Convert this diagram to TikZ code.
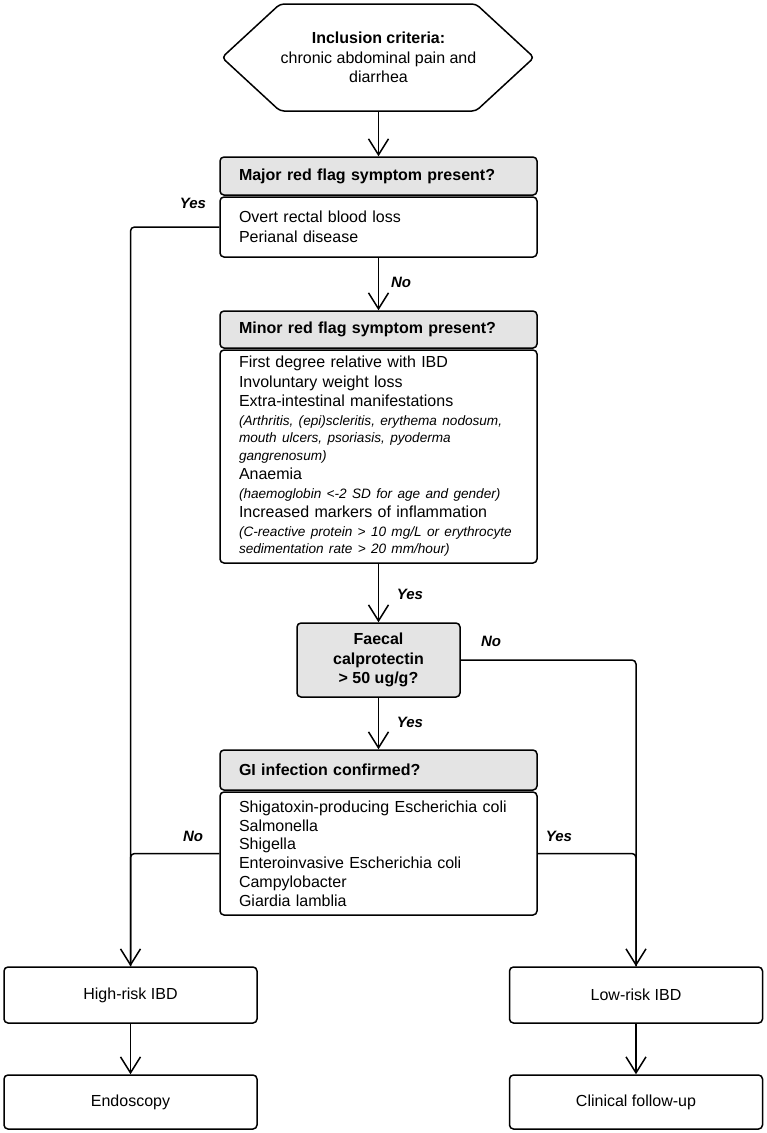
\documentclass[tikz,border=0pt]{standalone}
\usepackage{fontspec}
\setmainfont{Liberation Sans}
\usetikzlibrary{arrows.meta}
\definecolor{headgray}{RGB}{228,228,228}
\tikzset{
  base/.style={line width=1.5pt, draw=black},
  headbox/.style={base, fill=headgray, rounded corners=4pt, minimum width=317pt, text width=279pt, align=left, inner xsep=19pt, font=\fontsize{16}{19.5}\selectfont\bfseries},
  bodybox/.style={base, fill=white, rounded corners=4pt, minimum width=317pt, text width=279pt, align=left, inner xsep=19pt, inner ysep=0pt, font=\fontsize{16}{19.5}\selectfont},
  outbox/.style={base, fill=white, rounded corners=4pt, minimum width=253pt, align=center, font=\fontsize{16}{19.5}\selectfont},
  lbl/.style={font=\fontsize{15}{18}\selectfont\bfseries\itshape, inner sep=0pt},
  conn/.style={line width=1.5pt},
  arr/.style={conn, -{Straight Barb[length=16pt,width=20pt,line width=1.5pt]}},
}
\newcommand{\smallit}[1]{\mbox{\fontsize{13.6}{18}\selectfont\itshape #1}}
\begin{document}
\begin{tikzpicture}[x=1pt,y=-1pt]
\useasboundingbox (0,0) rectangle (767,1133);
% hexagon
\draw[base, rounded corners=4pt] (280,4) -- (476,4) -- (534,57.5) -- (476,111) -- (280,111) -- (222,57.5) -- cycle;
\node[minimum width=254pt, minimum height=107pt, align=center, inner sep=0pt, font=\fontsize{16}{19.5}\selectfont] (hex) at (378.5,57.5) {\textbf{Inclusion criteria:}\\chronic abdominal pain and\\diarrhea};
% major
\node[headbox, minimum height=38pt] (majhead) at (378.5,176) {Major red flag symptom present?};
\node[bodybox, minimum height=60pt] (majbody) at (378.5,227) {Overt rectal blood loss\\Perianal disease};
% minor
\node[headbox, minimum height=37pt] (minhead) at (378.5,329.5) {Minor red flag symptom present?};
\node[bodybox, minimum height=213pt] (minbody) at (378.5,456.5) {%
First degree relative with IBD\\
Involuntary weight loss\\
Extra-intestinal manifestations\\[-1pt]
\smallit{(Arthritis, (epi)scleritis, erythema nodosum,}\\[-2pt]
\smallit{mouth ulcers, psoriasis, pyoderma}\\[-2pt]
\smallit{gangrenosum)}\\
Anaemia\\[-1pt]
\smallit{(haemoglobin <-2 SD for age and gender)}\\
Increased markers of inflammation\\[-1pt]
\smallit{(C-reactive protein > 10 mg/L or erythrocyte}\\[-2pt]
\smallit{sedimentation rate > 20 mm/hour)}};
% calprotectin
\node[base, fill=headgray, rounded corners=4pt, minimum width=163pt, minimum height=74pt, align=center, font=\fontsize{16}{19.5}\selectfont\bfseries] (calp) at (378.5,660) {Faecal\\calprotectin\\> 50 ug/g?};
% GI
\node[headbox, minimum height=40pt] (gihead) at (378.5,770) {GI infection confirmed?};
\node[bodybox, minimum height=123pt, font=\fontsize{16}{18.8}\selectfont] (gibody) at (378.5,853.5) {%
Shigatoxin-producing Escherichia coli\\
Salmonella\\
Shigella\\
Enteroinvasive Escherichia coli\\
Campylobacter\\
Giardia lamblia};
% outcomes
\node[outbox, minimum height=56pt] (high) at (130.5,995) {High-risk IBD};
\node[outbox, minimum height=54pt] (endo) at (130.5,1102) {Endoscopy};
\node[outbox, minimum height=56pt] (low) at (636,995) {Low-risk IBD};
\node[outbox, minimum height=54pt] (clin) at (636,1102) {Clinical follow-up};
% connectors
\draw[arr] (hex.south) -- (majhead.north);
\draw[arr] (majbody.south) -- (minhead.north);
\draw[arr] (minbody.south) -- (calp.north);
\draw[arr] (calp.south) -- (gihead.north);
\draw[arr, rounded corners=4pt] (majbody.west) -| (high.north);
\draw[conn, rounded corners=4pt] (gibody.west) -| (high.north);
\draw[arr, rounded corners=4pt] (calp.east) -| (low.north);
\draw[conn, rounded corners=4pt] (gibody.east) -| (low.north);
\draw[arr] (high.south) -- (endo.north);
\draw[arr] (low.south) -- (clin.north);
% labels
\node[lbl] (l1) at (193,203) {Yes};
\node[lbl] (l2) at (401,282) {No};
\node[lbl] (l3) at (410,594) {Yes};
\node[lbl] (l4) at (491,641) {No};
\node[lbl] (l5) at (410,722) {Yes};
\node[lbl] (l6) at (193,836) {No};
\node[lbl] (l7) at (559,836) {Yes};
\end{tikzpicture}
\end{document}
